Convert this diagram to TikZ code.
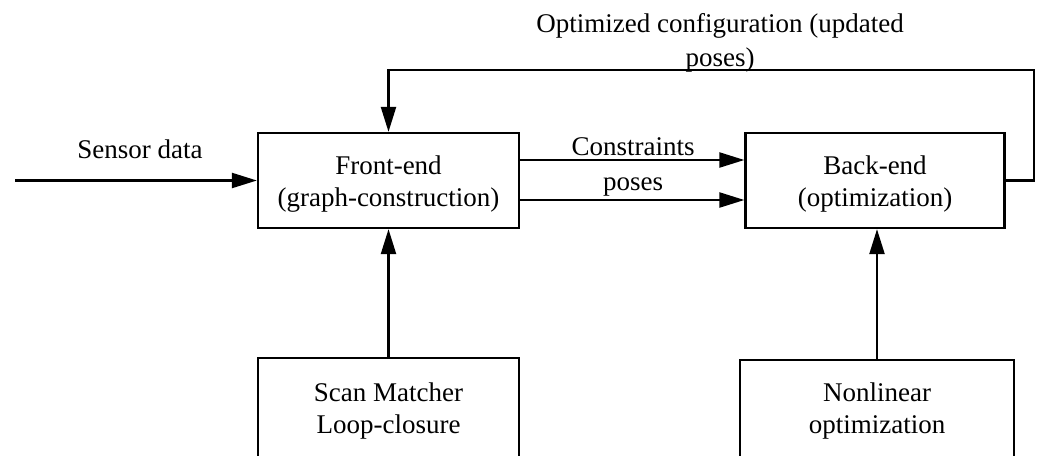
\documentclass[tikz,border=0pt]{standalone}
\usepackage{fontspec}
\setmainfont{Liberation Serif}
\usetikzlibrary{arrows.meta,calc}

\tikzset{
  block/.style={draw, line width=2.3pt, inner sep=0pt},
  arr/.style={line width=2.3pt, -{Triangle[length=25pt,width=15pt]}},
  lbl/.style={font=\fontsize{27}{32}\selectfont, inner sep=0pt, align=center}
}

\begin{document}
\begin{tikzpicture}[x=1pt,y=-1pt]
  \useasboundingbox (0,0) rectangle (1041,455);
  \clip (0,0) rectangle (1041,455);

  % main blocks
  \node[block, minimum width=261pt, minimum height=95pt] (front) at (388.5,180.5) {};
  \node[block, minimum width=259pt, minimum height=95pt] (back) at (875,180.5) {};
  \node[lbl] (fronttxt) at ($(front.center)+(0,4)$) {Front-end\\(graph-construction)};
  \node[lbl] (backtxt) at ($(back.center)+(0,4)$) {Back-end\\(optimization)};

  % helper blocks, running off the lower edge
  \node[block, minimum width=261pt, minimum height=106pt, anchor=north] (scan) at (388.5,357) {};
  \node[block, minimum width=274pt, minimum height=102pt, anchor=north] (nonlin) at (877,359) {};
  \node[lbl] (scantxt) at (388.5,411) {Scan Matcher\\Loop-closure};
  \node[lbl] (nonlintxt) at (877,411) {Nonlinear\\optimization};

  % input
  \coordinate (src) at (15,180.5);
  \draw[arr] (src) -- (front.west);
  \node[lbl, anchor=base] (sensorlbl) at (140,158) {Sensor data};

  % front-end to back-end
  \draw[arr] ($(front.east)+(0,-20.5)$) -- ($(back.west)+(0,-20.5)$);
  \draw[arr] ($(front.east)+(0,19.5)$) -- ($(back.west)+(0,19.5)$);
  \node[lbl, anchor=base] (conlbl) at (633,155) {Constraints};
  \node[lbl, anchor=base] (poslbl) at (633,190) {poses};

  % feedback loop
  \coordinate (fbcorner) at (1034,70);
  \draw[arr] (back.east) -| (fbcorner) -| (front.north);
  \node[lbl, font=\fontsize{27}{34}\selectfont] (fblbl) at (720,43)
    {Optimized configuration (updated\\poses)};

  % supporting modules
  \draw[arr] (scan.north) -- (front.south);
  \draw[arr] (nonlin.north) -- (nonlin.north |- back.south);
\end{tikzpicture}
\end{document}
